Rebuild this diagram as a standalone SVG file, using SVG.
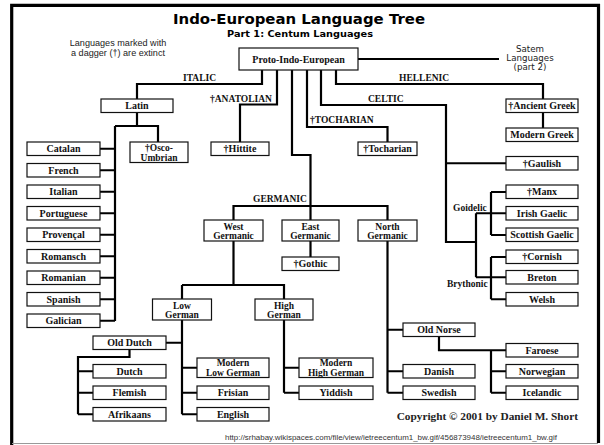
<svg xmlns="http://www.w3.org/2000/svg" width="604" height="445" viewBox="0 0 604 445">
<style>
.b rect{fill:#fff;stroke:#111;stroke-width:1.2}
.b text{font-family:"Liberation Serif","Times New Roman",serif;font-weight:bold;font-size:10px;fill:#111;text-anchor:middle}
.b text.t2{font-size:9.5px}
.c path{fill:none;stroke:#000;stroke-width:2.2;stroke-linejoin:miter}
.lab{font-family:"Liberation Serif","Times New Roman",serif;font-weight:bold;font-size:9.5px;fill:#111}
.sans{font-family:"Liberation Sans",Arial,sans-serif;font-size:9.1px;fill:#222;text-anchor:middle}
.ver{font-family:"DejaVu Sans",Verdana,sans-serif;font-size:8.7px;fill:#222;text-anchor:middle}
</style>
<rect width="604" height="445" fill="#fff"/>
<!-- frame -->
<path d="M11.7,445 V5.3 H598.5 V443" fill="none" stroke="#000" stroke-width="3.2"/>
<path d="M12,443.5 H598" stroke="#999" stroke-width="1"/>
<!-- titles -->
<text x="299" y="24" font-family="'DejaVu Sans',Verdana,sans-serif" font-weight="bold" font-size="14.5" text-anchor="middle" textLength="252" lengthAdjust="spacingAndGlyphs">Indo-European Language Tree</text>
<text x="300" y="36.5" font-family="'DejaVu Sans',Verdana,sans-serif" font-weight="bold" font-size="9.5" text-anchor="middle" textLength="146" lengthAdjust="spacingAndGlyphs">Part 1: Centum Languages</text>
<text class="sans" x="118" y="46.3">Languages marked with</text>
<text class="sans" x="118" y="55.8">a dagger (†) are extinct</text>
<text class="ver" x="530" y="52.4">Satem</text>
<text class="ver" x="530" y="61.4">Languages</text>
<text class="ver" x="530" y="70.4">(part 2)</text>
<!-- connectors -->
<g id="connectors" class="c">
<path d="M358,59 H499"/>
<path d="M262,70 V84 H137 V99"/>
<path d="M277,70 V104.5 H240 V142"/>
<path d="M292,70 V155 H310.5 V220"/>
<path d="M233.5,220 V206 H387.5 V220"/>
<path d="M307,70 V127 H387.5 V142"/>
<path d="M321,70 V105 H446 V242 H476"/>
<path d="M446,163.25 H506"/>
<path d="M476,213.25 V277.25"/>
<path d="M476,213.25 H506 M476,277.25 H506"/>
<path d="M491,192 V235 M491,192 H506 M491,235 H506"/>
<path d="M491,257 V299.25 M491,257 H506 M491,299.25 H506"/>
<path d="M336,70 V84 H543 V99"/>
<path d="M543,112.5 V128"/>
<path d="M137,112.5 V126 M115,126 H158 V142 M115,126 V321"/>
<path d="M100,148.75 H115 M100,170.25 H115 M100,191.75 H115 M100,213.25 H115 M100,234.75 H115 M100,256.25 H115 M100,277.75 H115 M100,299.25 H115 M100,320.75 H115"/>
<path d="M310.5,241 V257"/>
<path d="M233.5,241 V285 M182,285 H284 V299 M182,285 V299"/>
<path d="M182,320 V414.25 M166,342.75 H182 M182,367.75 H197 M182,392.75 H197 M182,414.25 H197"/>
<path d="M129.5,349.5 V357 H78 V414.25 M78,371.25 H93 M78,392.75 H93 M78,414.25 H93"/>
<path d="M284,320 V392.75 M284,367.75 H299 M284,392.75 H299"/>
<path d="M387.5,241 V392.75 M387.5,329.75 H403 M387.5,371.25 H403 M387.5,392.75 H403"/>
<path d="M439,336.5 V350.25 H506 M491,350.25 V392.75 M491,371.25 H506 M491,392.75 H506"/>
</g>
<!-- branch labels -->
<g id="labels">
<text class="lab" x="183" y="80.5">ITALIC</text>
<text class="lab" x="399" y="80.5">HELLENIC</text>
<text class="lab" x="210" y="101.5">†ANATOLIAN</text>
<text class="lab" x="368" y="101.5">CELTIC</text>
<text class="lab" x="310" y="123">†TOCHARIAN</text>
<text class="lab" x="253" y="202">GERMANIC</text>
<text class="lab" x="453" y="210.5" font-size="10">Goidelic</text>
<text class="lab" x="447" y="287" font-size="10">Brythonic</text>
</g>
<!-- nodes -->
<g id="pie" class="b"><rect x="239" y="48" width="119" height="22" stroke-width="2"/><text x="298.5" y="63.3" font-size="11.3">Proto-Indo-European</text></g>
<g id="latin" class="b"><rect x="101" y="99" width="72" height="13.5"/><text x="137" y="109">Latin</text></g>
<g id="osco" class="b"><rect x="130" y="142" width="58" height="20.5"/><text class="t2" x="159" y="151.3">†Osco-</text><text class="t2" x="159" y="160.8">Umbrian</text></g>
<g id="catalan" class="b"><rect x="27" y="142" width="73" height="13.5"/><text x="63.5" y="152">Catalan</text></g>
<g id="french" class="b"><rect x="27" y="163.5" width="73" height="13.5"/><text x="63.5" y="173.5">French</text></g>
<g id="italian" class="b"><rect x="27" y="185" width="73" height="13.5"/><text x="63.5" y="195">Italian</text></g>
<g id="portuguese" class="b"><rect x="27" y="206.5" width="73" height="13.5"/><text x="63.5" y="216.5">Portuguese</text></g>
<g id="provencal" class="b"><rect x="27" y="228" width="73" height="13.5"/><text x="63.5" y="238">Provençal</text></g>
<g id="romansch" class="b"><rect x="27" y="249.5" width="73" height="13.5"/><text x="63.5" y="259.5">Romansch</text></g>
<g id="romanian" class="b"><rect x="27" y="271" width="73" height="13.5"/><text x="63.5" y="281">Romanian</text></g>
<g id="spanish" class="b"><rect x="27" y="292.5" width="73" height="13.5"/><text x="63.5" y="302.5">Spanish</text></g>
<g id="galician" class="b"><rect x="27" y="314" width="73" height="13.5"/><text x="63.5" y="324">Galician</text></g>
<g id="hittite" class="b"><rect x="211" y="142" width="58" height="13.5"/><text x="240" y="152">†Hittite</text></g>
<g id="tocharian" class="b"><rect x="358" y="142" width="59" height="13.5"/><text x="387.5" y="152">†Tocharian</text></g>
<g id="ancient-greek" class="b"><rect x="506" y="99" width="72" height="13.5"/><text x="542" y="109">†Ancient Greek</text></g>
<g id="modern-greek" class="b"><rect x="506" y="128" width="72" height="13.5"/><text x="542" y="138">Modern Greek</text></g>
<g id="gaulish" class="b"><rect x="506" y="156.5" width="72" height="13.5"/><text x="542" y="166.5">†Gaulish</text></g>
<g id="manx" class="b"><rect x="506" y="185" width="72" height="13.5"/><text x="542" y="195">†Manx</text></g>
<g id="irish" class="b"><rect x="506" y="206.5" width="72" height="13.5"/><text x="542" y="216.5">Irish Gaelic</text></g>
<g id="scottish" class="b"><rect x="506" y="228" width="72" height="13.5"/><text x="542" y="238">Scottish Gaelic</text></g>
<g id="cornish" class="b"><rect x="506" y="250" width="72" height="13.5"/><text x="542" y="260">†Cornish</text></g>
<g id="breton" class="b"><rect x="506" y="270.5" width="72" height="13.5"/><text x="542" y="280.5">Breton</text></g>
<g id="welsh" class="b"><rect x="506" y="292.5" width="72" height="13.5"/><text x="542" y="302.5">Welsh</text></g>
<g id="west-germanic" class="b"><rect x="204" y="220" width="59" height="21"/><text class="t2" x="233.5" y="229.8">West</text><text class="t2" x="233.5" y="239.4">Germanic</text></g>
<g id="east-germanic" class="b"><rect x="282" y="220" width="57" height="21"/><text class="t2" x="310.5" y="229.8">East</text><text class="t2" x="310.5" y="239.4">Germanic</text></g>
<g id="north-germanic" class="b"><rect x="358" y="220" width="59" height="21"/><text class="t2" x="387.5" y="229.8">North</text><text class="t2" x="387.5" y="239.4">Germanic</text></g>
<g id="gothic" class="b"><rect x="282" y="257" width="57" height="13.5"/><text x="310.5" y="267">†Gothic</text></g>
<g id="low-german" class="b"><rect x="152.5" y="299" width="59" height="21"/><text class="t2" x="182" y="308.6">Low</text><text class="t2" x="182" y="318.2">German</text></g>
<g id="high-german" class="b"><rect x="255" y="299" width="58" height="21"/><text class="t2" x="284" y="308.6">High</text><text class="t2" x="284" y="318.2">German</text></g>
<g id="old-dutch" class="b"><rect x="93" y="336" width="73" height="13.5"/><text x="129.5" y="346">Old Dutch</text></g>
<g id="dutch" class="b"><rect x="93" y="364.5" width="73" height="13.5"/><text x="129.5" y="374.5">Dutch</text></g>
<g id="flemish" class="b"><rect x="93" y="386" width="73" height="13.5"/><text x="129.5" y="396">Flemish</text></g>
<g id="afrikaans" class="b"><rect x="93" y="407.5" width="73" height="13.5"/><text x="129.5" y="417.5">Afrikaans</text></g>
<g id="modern-low-german" class="b"><rect x="197" y="358" width="72" height="19.5"/><text class="t2" x="233" y="366.4">Modern</text><text class="t2" x="233" y="376">Low German</text></g>
<g id="frisian" class="b"><rect x="197" y="386" width="72" height="13.5"/><text x="233" y="396">Frisian</text></g>
<g id="english" class="b"><rect x="197" y="407.5" width="72" height="13.5"/><text x="233" y="417.5">English</text></g>
<g id="modern-high-german" class="b"><rect x="299" y="358" width="74" height="19.5"/><text class="t2" x="336" y="366.4">Modern</text><text class="t2" x="336" y="376">High German</text></g>
<g id="yiddish" class="b"><rect x="299" y="386" width="74" height="13.5"/><text x="336" y="396">Yiddish</text></g>
<g id="old-norse" class="b"><rect x="403" y="323" width="72" height="13.5"/><text x="439" y="333">Old Norse</text></g>
<g id="danish" class="b"><rect x="403" y="364.5" width="72" height="13.5"/><text x="439" y="374.5">Danish</text></g>
<g id="swedish" class="b"><rect x="403" y="386" width="72" height="13.5"/><text x="439" y="396">Swedish</text></g>
<g id="faroese" class="b"><rect x="506" y="343.5" width="72" height="13.5"/><text x="542" y="353.5">Faroese</text></g>
<g id="norwegian" class="b"><rect x="506" y="364.5" width="72" height="13.5"/><text x="542" y="374.5">Norwegian</text></g>
<g id="icelandic" class="b"><rect x="506" y="386" width="72" height="13.5"/><text x="542" y="396">Icelandic</text></g>
<!-- footer -->
<text x="578" y="420" font-family="'Liberation Serif','Times New Roman',serif" font-weight="bold" font-size="11.3" fill="#222" text-anchor="end">Copyright © 2001 by Daniel M. Short</text>
<text x="225" y="440" font-family="'Liberation Sans',Arial,sans-serif" font-size="7.6" fill="#333" textLength="332" lengthAdjust="spacingAndGlyphs">http://srhabay.wikispaces.com/file/view/ietreecentum1_bw.gif/456873948/ietreecentum1_bw.gif</text>
</svg>
